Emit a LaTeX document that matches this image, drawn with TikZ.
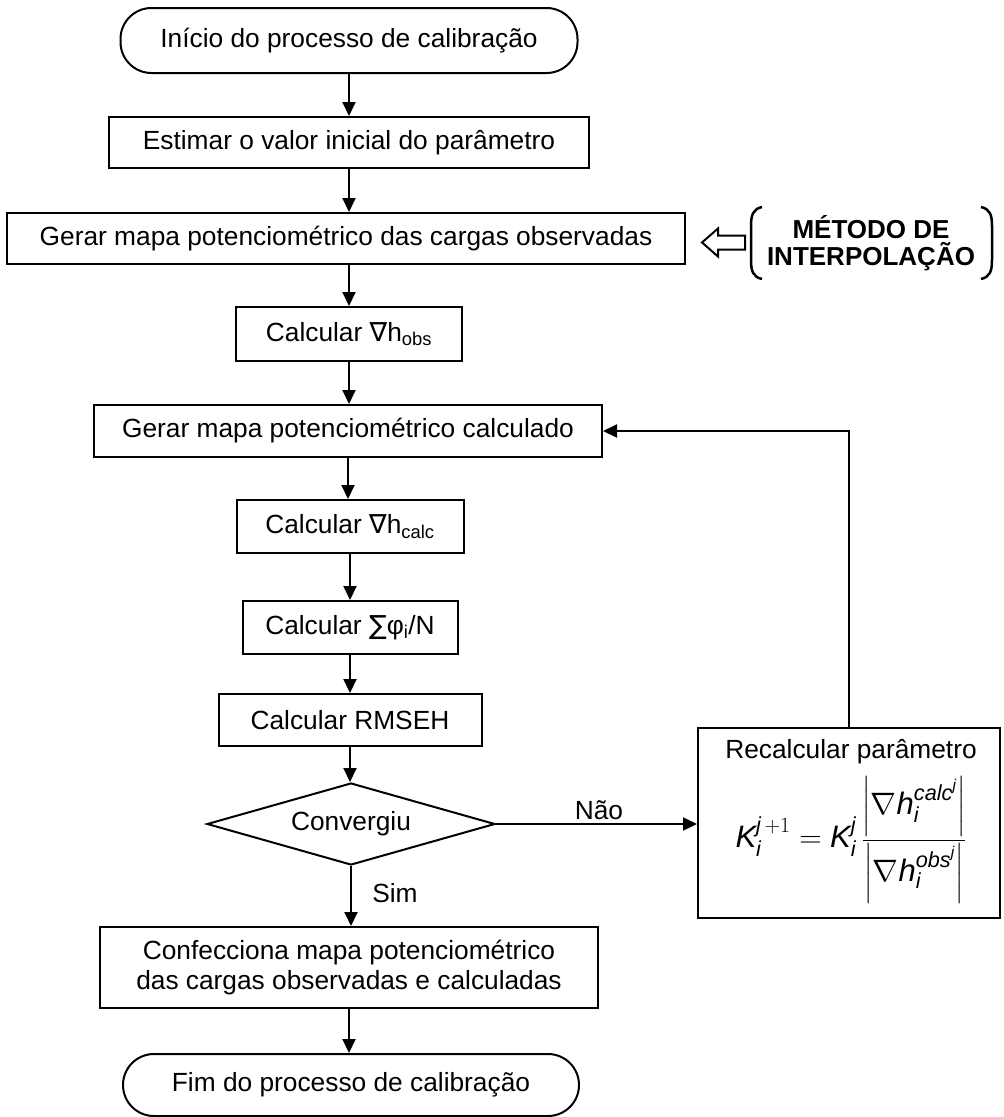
\RequirePackage{fix-cm}
\documentclass[tikz,border=0pt]{standalone}
\usepackage{amsmath}
\usepackage{fontspec}
\setmainfont{Liberation Sans}
\newfontfamily\dejavu{DejaVu Sans}
\usetikzlibrary{shapes.geometric,arrows.meta,calc}
\begin{document}
\begin{tikzpicture}[x=1pt,y=-1pt,
  every node/.style={font=\fontsize{26.3}{30}\selectfont, inner sep=0pt},
  box/.style={draw, line width=2pt, rectangle, align=center},
  term/.style={draw, line width=2pt, rectangle, rounded corners=31pt},
  dec/.style={draw, line width=2pt, diamond, shape aspect=3.5},
  arr/.style={line width=2pt, -{Triangle[length=14pt,width=13pt]}},
  lnk/.style={line width=2pt}]
\useasboundingbox (0,0) rectangle (1004,1117);

\node[term, minimum width=457pt, minimum height=65pt] (start) at (349,40.5) {Início do processo de calibração};
\node[box, minimum width=480pt, minimum height=51pt] (est) at (349,142.5) {Estimar o valor inicial do parâmetro};
\node[box, minimum width=678pt, minimum height=51pt] (gobs) at (346,238.5) {Gerar mapa potenciométrico das cargas observadas};
\node[box, minimum width=226pt, minimum height=54pt] (cobs) at (349,334) {Calcular {\dejavu ∇}h\textsubscript{obs}};
\node[box, minimum width=508pt, minimum height=52pt] (gcal) at (348,431) {Gerar mapa potenciométrico calculado};
\node[box, minimum width=227pt, minimum height=53pt] (ccal) at (350,526.5) {Calcular {\dejavu ∇}h\textsubscript{calc}};
\node[box, minimum width=215pt, minimum height=53pt] (sum) at (350,627.5) {Calcular {\dejavu ∑}φ\textsubscript{i}/N};
\node[box, minimum width=263pt, minimum height=52pt] (rms) at (350,720) {Calcular RMSEH};
\node[dec, minimum width=288pt, minimum height=82pt] (conv) at (351,824) {Convergiu};
\node[box, minimum width=498pt, minimum height=81pt] (conf) at (349,967.5) {Confecciona mapa potenciométrico\\das cargas observadas e calculadas};
\node[term, minimum width=456pt, minimum height=62pt] (fim) at (351,1085) {Fim do processo de calibração};
\node[box, minimum width=302pt, minimum height=190pt] (rec) at (849,823) {};
\node (rectitle) at (851,752) {Recalcular parâmetro};
\node (recform) at (851,840) {\fontsize{31}{36}\selectfont $\displaystyle \textit{K}_{\textit{i}}^{\textit{j}\,+1}=\textit{K}_{\textit{i}}^{\textit{j}}\,\frac{\left|\nabla\textit{h}_{\textit{i}}^{\textit{calc}^{\textit{j}}}\right|}{\left|\nabla\textit{h}_{\textit{i}}^{\textit{obs}^{\textit{j}}}\right|}$};
\node[align=center, font=\fontsize{26}{27}\selectfont\bfseries] (interp) at (871,243) {MÉTODO DE\\INTERPOLAÇÃO};
\node (nao) at (599,810) {Não};
\node (sim) at (395,893) {Sim};

\draw[arr] (start.south) -- (start.south |- est.north);
\draw[arr] (est.south) -- (est.south |- gobs.north);
\draw[arr] (cobs.north |- gobs.south) -- (cobs.north);
\draw[arr] (cobs.south) -- (cobs.south |- gcal.north);
\draw[arr] (gcal.south) -- (gcal.south |- ccal.north);
\draw[arr] (ccal.south) -- (ccal.south |- sum.north);
\draw[arr] (sum.south) -- (sum.south |- rms.north);
\draw[arr] (rms.south) -- (rms.south |- conv.north);
\draw[arr] (conv.south) -- (conv.south |- conf.north);
\draw[arr] (conf.south) -- (conf.south |- fim.north);
\draw[arr] (conv.east) -- (conv.east -| rec.west);
\draw[arr] (rec.north) |- (gcal.east);

% hollow arrow from interpolation method to box
\draw[line width=2pt, line join=miter] ($(gobs.east)+(16,4)$) -- ++(16,-14) -- ++(0,7) -- ++(27,0) -- ++(0,14) -- ++(-27,0) -- ++(0,7) -- cycle;
% brackets
\draw[line width=2.5pt] (762,207) .. controls (753,209) and (751,215) .. (751,226) -- (751,260) .. controls (751,271) and (753,277) .. (762,279);
\draw[line width=2.5pt] (981,207) .. controls (990,209) and (992,215) .. (992,226) -- (992,260) .. controls (992,271) and (990,277) .. (981,279);
\end{tikzpicture}
\end{document}
